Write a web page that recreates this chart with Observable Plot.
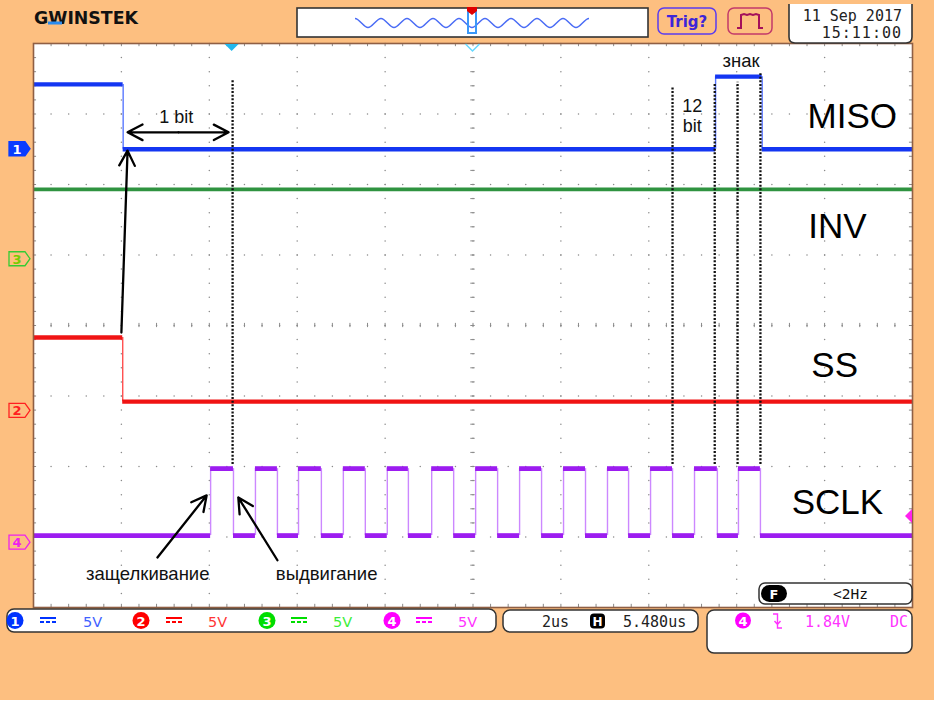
<!DOCTYPE html>
<html><head><meta charset="utf-8">
<script src="https://cdn.jsdelivr.net/npm/d3@7"></script>
<script src="https://cdn.jsdelivr.net/npm/@observablehq/plot@0.6"></script>
<style>
html,body{margin:0;padding:0;background:#fdbf80;}
body{width:934px;height:702px;overflow:hidden;position:relative;}
#chart svg{display:block;}
#strip{position:absolute;left:0;top:700px;width:934px;height:2px;background:#fff;}
</style></head><body><div id="chart"></div><div id="strip"></div>
<script>
// x: time in µs (2 µs/div, 10 div); y: screen level in divisions from bottom (8 div)
const misoEdgeTimes = [2.04, 15.52, 16.58];
const misoLevels = [7.42, 6.50, 7.53, 6.50];
const invEdgeTimes = [];
const invLevels = [5.93];
const ssEdgeTimes = [2.03];
const ssLevels = [3.83, 2.92];
const sclkEdgeTimes = [4.03, 4.55, 5.05, 5.55, 6.03, 6.55, 7.05, 7.55, 8.05, 8.53, 9.06, 9.56, 10.06,
  10.56, 11.06, 11.56, 12.06, 12.56, 13.06, 13.54, 14.04, 14.54, 15.04, 15.56, 16.04, 16.54];
const sclkLevels = [1.02, 1.97, 1.02, 1.97, 1.02, 1.97, 1.02, 1.97, 1.02, 1.97, 1.02, 1.97, 1.02, 1.97,
  1.02, 1.97, 1.02, 1.97, 1.02, 1.97, 1.02, 1.97, 1.02, 1.97, 1.02, 1.97, 1.02];

const traceNames = ["MISO", "INV", "SS", "SCLK"];
const traceLabelT = [18.63, 18.29, 18.23, 18.29];
const traceLabelV = [6.96, 5.40, 3.43, 1.49];

const markerTimes = [4.53, 14.54, 15.50, 16.02, 16.54];
const markerTop = [7.47, 7.38, 7.42, 7.45, 7.57];
const markerBottom = [2.03, 2.03, 2.03, 2.03, 2.03];

const noteTexts = ["1 bit", "12", "bit", "знак", "защелкивание", "выдвигание"];
const noteT = [3.25, 14.99, 14.99, 16.10, 2.60, 6.67];
const noteV = [6.96, 7.11, 6.83, 7.75, 0.47, 0.47];
const noteSize = [18, 18, 18, 18.5, 18.5, 18.5];

// arrows: [t1, v1, t2, v2] tail -> head
const arrowT1 = [2.00, 3.30, 3.30, 2.82, 5.55];
const arrowV1 = [3.90, 6.74, 6.74, 0.71, 0.67];
const arrowT2 = [2.14, 2.14, 4.44, 3.94, 4.66];
const arrowV2 = [6.48, 6.74, 6.74, 1.59, 1.56];

const channelNames = ["1", "2", "3", "4"];
const channelGround = [6.50, 2.79, 4.94, 0.92];
const channelScale = ["5V", "5V", "5V", "5V"];
const triggerTime = 4.52;      // µs
const triggerLevel = 1.29;     // div (1.84 V on CH4)
const dateText = ["11 Sep 2017", "15:11:00"];
const timebaseText = ["2us", "5.480us"];
const triggerText = ["4", "1.84V", "DC"];
const filterText = "<2Hz";

function steps(edges, levels) {
  const xs = [0, ...edges, 20];
  return {
    h: levels.map((v, i) => ({x1: xs[i], x2: xs[i + 1], y: v})),
    v: edges.map((t, i) => ({x: t, y1: levels[i], y2: levels[i + 1]}))
  };
}
const miso = steps(misoEdgeTimes, misoLevels);
const inv = steps(invEdgeTimes, invLevels);
const ss = steps(ssEdgeTimes, ssLevels);
const sclk = steps(sclkEdgeTimes, sclkLevels);

// graticule
const minorX = d3.range(0, 20.001, 0.4);   // 0.2 div
const minorY = d3.range(0, 8.001, 0.2);
const majorX = d3.range(2, 19.9, 2);
const majorY = d3.range(1, 7.9, 1);
const rowDots = majorY.flatMap(y => minorX.map(x => ({x, y})));
const colDots = majorX.flatMap(x => minorY.map(y => ({x, y})));

const traceMarks = (s, colH, colV, w) => [
  Plot.ruleX(s.v, {x: "x", y1: "y1", y2: "y2", stroke: colV, strokeWidth: 1.4}),
  Plot.ruleY(s.h, {y: "y", x1: "x1", x2: "x2", stroke: colH, strokeWidth: w})
];

const notes = noteTexts.map((t, i) => ({t, x: noteT[i], y: noteV[i], s: noteSize[i]}));
const arrows = arrowT1.map((d, i) => ({x1: d, y1: arrowV1[i], x2: arrowT2[i], y2: arrowV2[i]}));
const labels = traceNames.map((t, i) => ({t, x: traceLabelT[i], y: traceLabelV[i]}));
const markers = markerTimes.map((t, i) => ({x: t, y1: markerBottom[i], y2: markerTop[i]}));

const plot = Plot.plot({
  width: 934, height: 702,
  marginLeft: 33, marginRight: 22, marginTop: 43, marginBottom: 95,
  x: {domain: [0, 20], axis: null},
  y: {domain: [0, 8], axis: null},
  style: {background: "transparent", fontFamily: "Liberation Sans, Arial, sans-serif", overflow: "visible"},
  marks: [
    Plot.frame({fill: "white", stroke: "none"}),
    Plot.dot(rowDots, {x: "x", y: "y", r: 0.75, fill: "#8a8a8a", stroke: "none"}),
    Plot.dot(colDots, {x: "x", y: "y", r: 0.75, fill: "#8a8a8a", stroke: "none"}),
    // center cross ticks
    Plot.ruleX(minorX, {x: d => d, y1: 3.97, y2: 4.03, stroke: "#8a8a8a", strokeWidth: 1}),
    Plot.ruleY(minorY, {y: d => d, x1: 9.95, x2: 10.05, stroke: "#8a8a8a", strokeWidth: 1}),
    // border ticks
    Plot.ruleX(minorX, {x: d => d, y1: 8, y2: 7.955, stroke: "#8a8a8a", strokeWidth: 1}),
    Plot.ruleX(minorX, {x: d => d, y1: 0, y2: 0.045, stroke: "#8a8a8a", strokeWidth: 1}),
    Plot.ruleY(minorY, {y: d => d, x1: 0, x2: 0.07, stroke: "#8a8a8a", strokeWidth: 1}),
    Plot.ruleY(minorY, {y: d => d, x1: 20, x2: 19.93, stroke: "#8a8a8a", strokeWidth: 1}),
    // traces
    ...traceMarks(inv, "#2f9340", "#2f9340", 3.8),
    ...traceMarks(ss, "#f01414", "#ff5050", 4.4),
    ...traceMarks(miso, "#1436f2", "#5a78ff", 4.4),
    ...traceMarks(sclk, "#9c1cf0", "#cc88ff", 4.8),
    // dotted cursors
    Plot.ruleX(markers, {x: "x", y1: "y1", y2: "y2", stroke: "#111", strokeWidth: 2.3, strokeDasharray: "2,1.6"}),
    // arrows
    Plot.arrow(arrows, {x1: "x1", y1: "y1", x2: "x2", y2: "y2", stroke: "#000", strokeWidth: 2.3, headLength: 11, headAngle: 55}),
    // annotations
    Plot.text(notes, {x: "x", y: "y", text: "t", fontSize: "s", fill: "#111"}),
    Plot.text(labels, {x: "x", y: "y", text: "t", fontSize: 35, fill: "#000"}),
    Plot.frame({stroke: "#8f5f44", strokeWidth: 1.6})
  ]
});
document.getElementById("chart").appendChild(plot);

const X = plot.scale("x"), Y = plot.scale("y");
const svg = d3.select(plot);
const g = svg.append("g").attr("text-anchor", "start");
const mono = "DejaVu Sans Mono, monospace";
const sans = "DejaVu Sans, sans-serif";

// ---------- header ----------
g.append("text").attr("x", 34).attr("y", 24).attr("font-family", sans).attr("font-weight", "bold")
  .attr("font-size", 17).attr("textLength", 104).attr("lengthAdjust", "spacingAndGlyphs").attr("fill", "#111").text("GWINSTEK");
g.append("rect").attr("x", 48).attr("y", 21.5).attr("width", 14).attr("height", 3).attr("fill", "#2a8cf0");

g.append("rect").attr("x", 297).attr("y", 8).attr("width", 351).attr("height", 29).attr("fill", "#fff").attr("stroke", "#333").attr("stroke-width", 1.6);
let wp = "M355,18.5 c4.5,0 8.5,9 13,9";
for (let i = 1; i < 18; i++) wp += (i % 2 ? " s8.5,-9 13,-9" : " s8.5,9 13,9");
g.append("path").attr("d", wp).attr("fill", "none").attr("stroke", "#4a6cf5").attr("stroke-width", 1.4);
g.append("rect").attr("x", 468).attr("y", 12).attr("width", 8).attr("height", 21).attr("fill", "none").attr("stroke", "#3a98f8").attr("stroke-width", 2);
g.append("path").attr("d", "M467,7 H477 V11 L472,15 L467,11 Z").attr("fill", "#e00000");

g.append("rect").attr("x", 658).attr("y", 8).attr("width", 58).attr("height", 26).attr("rx", 6).attr("fill", "none").attr("stroke", "#5a3cf0").attr("stroke-width", 1.5);
g.append("text").attr("x", 687).attr("y", 27).attr("text-anchor", "middle").attr("font-family", sans).attr("font-weight", "bold").attr("font-size", 15).attr("fill", "#3d25d8").text("Trig?");
g.append("rect").attr("x", 728).attr("y", 8).attr("width", 44).attr("height", 26).attr("rx", 6).attr("fill", "none").attr("stroke", "#c23a6a").attr("stroke-width", 1.5);
g.append("path").attr("d", "M737,28 H741 V15 L744,14 L747,15 L750,14 L753,15 L756,14 L759,15 V28 H763").attr("fill", "none").attr("stroke", "#a5105a").attr("stroke-width", 2);

g.append("path").attr("d", "M789,4 V37 Q789,43 795,43 H906 Q912,43 912,37 V4").attr("fill", "#fff").attr("stroke", "#333").attr("stroke-width", 1.6);
g.append("text").attr("x", 902).attr("y", 21).attr("text-anchor", "end").attr("font-family", mono).attr("font-size", 15).attr("fill", "#222").text(dateText[0]);
g.append("text").attr("x", 902).attr("y", 38).attr("text-anchor", "end").attr("font-family", mono).attr("font-size", 15).attr("fill", "#222").attr("letter-spacing", 1).text(dateText[1]);

// trigger position markers on top border
const tx = X.apply(triggerTime), cx = X.apply(10);
g.append("path").attr("d", `M${tx - 7},44 H${tx + 7} L${tx},51 Z`).attr("fill", "#22b8ee");
g.append("path").attr("d", `M${cx - 7},44 L${cx},51 L${cx + 7},44`).attr("fill", "none").attr("stroke", "#66d8ff").attr("stroke-width", 1.5);

// channel tags
const tagColors = ["#0a3cff", "#ff2020", "#33cc33", "#ee22ee"];
const tagText = ["#fff", "#ff2020", "#77cc00", "#ee22ee"];
channelNames.forEach((n, i) => {
  const cy = Y.apply(channelGround[i]);
  g.append("path").attr("d", `M9,${cy - 7} H25 L30,${cy} L25,${cy + 7} H9 Z`)
    .attr("fill", i === 0 ? tagColors[i] : "none").attr("stroke", tagColors[i]).attr("stroke-width", 1.3);
  g.append("text").attr("x", 17).attr("y", cy + 5).attr("text-anchor", "middle").attr("font-family", sans)
    .attr("font-weight", "bold").attr("font-size", 13).attr("fill", tagText[i]).text(n);
});
// trigger level marker on right edge
const ly = Y.apply(triggerLevel), rx = X.apply(20);
g.append("path").attr("d", `M${rx},${ly - 7} L${rx - 7},${ly} L${rx},${ly + 7} Z`).attr("fill", "#ff22ee");

// ---------- footer ----------
g.append("rect").attr("x", 759).attr("y", 583).attr("width", 153).attr("height", 21).attr("rx", 6).attr("fill", "#fff").attr("stroke", "#333").attr("stroke-width", 1.5);
g.append("rect").attr("x", 761).attr("y", 585).attr("width", 26).attr("height", 17).attr("rx", 8.5).attr("fill", "#000");
g.append("text").attr("x", 774).attr("y", 598.5).attr("text-anchor", "middle").attr("font-family", sans).attr("font-weight", "bold").attr("font-size", 13).attr("fill", "#fff").text("F");
g.append("text").attr("x", 833).attr("y", 599).attr("font-family", mono).attr("font-size", 14.5).attr("fill", "#111").text(filterText);

g.append("rect").attr("x", 7).attr("y", 609).attr("width", 489).attr("height", 23).attr("rx", 7).attr("fill", "#fff").attr("stroke", "#333").attr("stroke-width", 1.5);
const circX = [15, 141, 267, 392], iconX = [40, 166, 291, 416], vX = [83, 208, 333, 458];
const chFill = ["#0033ff", "#ff0000", "#00dd00", "#ff00ff"];
const chText = ["#3f62ff", "#ff3535", "#3aee3a", "#ff33ff"];
channelNames.forEach((n, i) => {
  g.append("circle").attr("cx", circX[i]).attr("cy", 620.5).attr("r", 8.5).attr("fill", chFill[i]);
  g.append("text").attr("x", circX[i]).attr("y", 625.5).attr("text-anchor", "middle").attr("font-family", sans).attr("font-weight", "bold").attr("font-size", 13).attr("fill", "#fff").text(n);
  g.append("line").attr("x1", iconX[i]).attr("x2", iconX[i] + 16).attr("y1", 618).attr("y2", 618).attr("stroke", chFill[i]).attr("stroke-width", 2);
  g.append("line").attr("x1", iconX[i]).attr("x2", iconX[i] + 16).attr("y1", 622).attr("y2", 622).attr("stroke", chFill[i]).attr("stroke-width", 2).attr("stroke-dasharray", "4,2");
  g.append("text").attr("x", vX[i]).attr("y", 627).attr("font-family", sans).attr("font-size", 14.5).attr("fill", chText[i]).text(channelScale[i]);
});

g.append("rect").attr("x", 503).attr("y", 610).attr("width", 195).attr("height", 22).attr("rx", 7).attr("fill", "#fff").attr("stroke", "#333").attr("stroke-width", 1.5);
g.append("text").attr("x", 542).attr("y", 627).attr("font-family", mono).attr("font-size", 15).attr("fill", "#222").text(timebaseText[0]);
g.append("rect").attr("x", 590).attr("y", 613.5).attr("width", 15).attr("height", 15).attr("rx", 4).attr("fill", "#000");
g.append("text").attr("x", 597.5).attr("y", 626).attr("text-anchor", "middle").attr("font-family", sans).attr("font-weight", "bold").attr("font-size", 12).attr("fill", "#fff").text("H");
g.append("text").attr("x", 623).attr("y", 627).attr("font-family", mono).attr("font-size", 15).attr("fill", "#222").text(timebaseText[1]);

g.append("rect").attr("x", 707).attr("y", 610).attr("width", 205).attr("height", 43).attr("rx", 7).attr("fill", "#fff").attr("stroke", "#333").attr("stroke-width", 1.5);
g.append("circle").attr("cx", 743).attr("cy", 620.5).attr("r", 8).attr("fill", "#ff00ff");
g.append("text").attr("x", 743).attr("y", 625.5).attr("text-anchor", "middle").attr("font-family", sans).attr("font-weight", "bold").attr("font-size", 13).attr("fill", "#fff").text(triggerText[0]);
g.append("path").attr("d", "M773,614 H777.5 V628 H782 M774.5,621 L777.5,624.5 L780.5,621").attr("fill", "none").attr("stroke", "#ff33ff").attr("stroke-width", 1.4);
g.append("text").attr("x", 805).attr("y", 627).attr("font-family", mono).attr("font-size", 15).attr("fill", "#ff33ff").text(triggerText[1]);
g.append("text").attr("x", 890).attr("y", 627).attr("font-family", mono).attr("font-size", 15).attr("fill", "#ff33ff").text(triggerText[2]);
</script></body></html>
